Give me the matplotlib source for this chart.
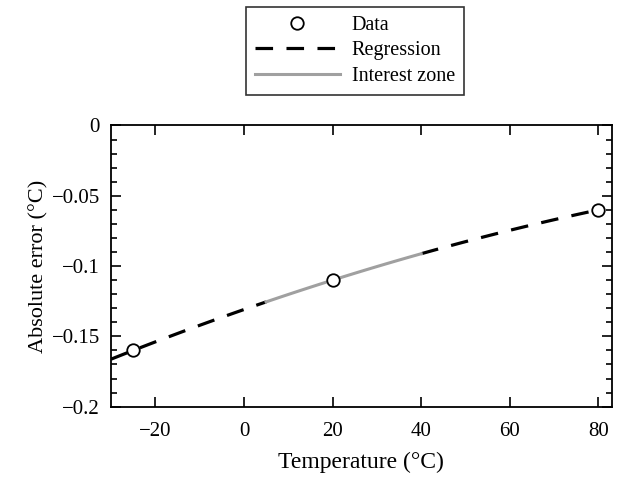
import numpy as np
import matplotlib
matplotlib.use("Agg")
import matplotlib.pyplot as plt
from matplotlib.ticker import MultipleLocator
from matplotlib.lines import Line2D

plt.rcParams['font.family'] = ['Liberation Serif', 'DejaVu Serif']

temp_data = [-25, 20, 80]
err_data = [-0.16, -0.11, -0.06]
reg_range = [-30, 80]
zone_range = [5, 40]

coef = np.polyfit(temp_data, err_data, 2)
xr1 = np.linspace(reg_range[0], zone_range[0], 100)
xr2 = np.linspace(zone_range[1], reg_range[1], 100)
xz = np.linspace(zone_range[0], zone_range[1], 100)

fig = plt.figure(figsize=(6.22, 4.79), dpi=100)
ax = fig.add_axes([0.1785, 0.151, 0.805, 0.587])

dash = (0, (5.5, 4.2))
lw_reg = 2.3
ax.plot(xr1, np.polyval(coef, xr1), color='black', lw=lw_reg, ls=dash, zorder=2)
ax.plot(xr2, np.polyval(coef, xr2), color='black', lw=lw_reg, ls=dash, zorder=2)
ax.plot(xz, np.polyval(coef, xz), color='#a0a0a0', lw=2.2, zorder=3)
ax.plot(temp_data, err_data, 'o', ms=9, mfc='white', mec='black', mew=1.3, zorder=4)

ax.set_xlim(-30, 83)
ax.set_ylim(-0.2, 0)
ax.yaxis.set_minor_locator(MultipleLocator(0.01))
ax.set_yticks([0, -0.05, -0.1, -0.15, -0.2])
ax.set_yticklabels(['0', '\u22120.05', '\u22120.1', '\u22120.15', '\u22120.2'])
ax.set_xticks([-20, 0, 20, 40, 60, 80])
ax.set_xticklabels(['\u221220', '0', '20', '40', '60', '80'])
ax.tick_params(which='both', direction='in', top=True, right=True, labelsize=15, width=1.2)
ax.tick_params(which='major', length=7)
ax.tick_params(which='minor', length=4)
ax.tick_params(axis='x', pad=11)
ax.tick_params(axis='y', pad=8)
for s in ax.spines.values():
    s.set_linewidth(1.3)

ax.set_xlabel('Temperature (\u00b0C)', fontsize=17, labelpad=8)
ax.set_ylabel('Absolute error (\u00b0C)', fontsize=16, labelpad=2)

handles = [
    Line2D([], [], ls='none', marker='o', ms=9, mfc='white', mec='black', mew=1.3),
    Line2D([], [], color='black', lw=lw_reg, ls=dash),
    Line2D([], [], color='#a0a0a0', lw=2.2),
]
labels = ['Data', 'Regression', 'Interest zone']
leg = fig.legend(handles, labels, loc='upper center',
                 bbox_to_anchor=(0.5707, 0.985), fontsize=14.5, frameon=True,
                 fancybox=False, edgecolor='black', handlelength=4.2,
                 handletextpad=0.6, borderpad=0.45, labelspacing=0.3,
                 borderaxespad=0)
leg.get_frame().set_linewidth(1.2)

fig.savefig('out.png', dpi=100)
